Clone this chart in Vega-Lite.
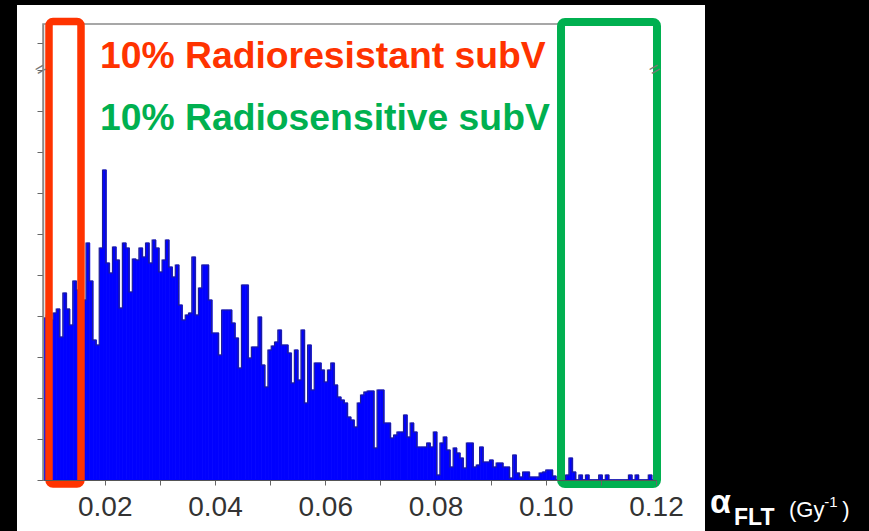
{
  "$schema": "https://vega.github.io/schema/vega-lite/v6.json",
  "width": 613,
  "height": 456,
  "autosize": "none",
  "padding": {"left": 43, "top": 24, "right": 213, "bottom": 51},
  "background": "black",
  "config": {"view": {"stroke": null}},
  "datasets": {
    "hist": [
      {"a":0.0088,"n":162},{"a":0.0094,"n":165},{"a":0.0100,"n":160},{"a":0.0106,"n":167},{"a":0.0112,"n":171},
      {"a":0.0118,"n":143},{"a":0.0124,"n":187},{"a":0.0130,"n":171},{"a":0.0136,"n":155},{"a":0.0142,"n":199},
      {"a":0.0148,"n":190},{"a":0.0154,"n":200},{"a":0.0160,"n":180},{"a":0.0166,"n":237},{"a":0.0172,"n":199},
      {"a":0.0178,"n":140},{"a":0.0184,"n":135},{"a":0.0190,"n":232},{"a":0.0196,"n":310},{"a":0.0202,"n":217},
      {"a":0.0208,"n":207},{"a":0.0214,"n":233},{"a":0.0220,"n":220},{"a":0.0226,"n":172},{"a":0.0232,"n":237},
      {"a":0.0238,"n":232},{"a":0.0244,"n":188},{"a":0.0250,"n":221},{"a":0.0256,"n":220},{"a":0.0262,"n":232},
      {"a":0.0268,"n":223},{"a":0.0274,"n":237},{"a":0.0280,"n":217},{"a":0.0286,"n":240},{"a":0.0292,"n":232},
      {"a":0.0298,"n":208},{"a":0.0304,"n":220},{"a":0.0310,"n":240},{"a":0.0316,"n":213},{"a":0.0322,"n":203},
      {"a":0.0328,"n":215},{"a":0.0334,"n":175},{"a":0.0340,"n":160},{"a":0.0346,"n":165},{"a":0.0352,"n":167},
      {"a":0.0358,"n":223},{"a":0.0364,"n":165},{"a":0.0370,"n":192},{"a":0.0376,"n":215},{"a":0.0382,"n":215},
      {"a":0.0388,"n":180},{"a":0.0394,"n":147},{"a":0.0400,"n":147},{"a":0.0406,"n":125},{"a":0.0412,"n":170},
      {"a":0.0418,"n":170},{"a":0.0424,"n":170},{"a":0.0430,"n":157},{"a":0.0436,"n":142},{"a":0.0442,"n":112},
      {"a":0.0448,"n":195},{"a":0.0454,"n":195},{"a":0.0460,"n":122},{"a":0.0466,"n":133},{"a":0.0472,"n":133},
      {"a":0.0478,"n":163},{"a":0.0484,"n":115},{"a":0.0490,"n":93},{"a":0.0496,"n":130},{"a":0.0502,"n":134},
      {"a":0.0508,"n":138},{"a":0.0514,"n":150},{"a":0.0520,"n":135},{"a":0.0526,"n":135},{"a":0.0532,"n":127},
      {"a":0.0538,"n":97},{"a":0.0544,"n":130},{"a":0.0550,"n":100},{"a":0.0556,"n":150},{"a":0.0562,"n":77},
      {"a":0.0568,"n":135},{"a":0.0574,"n":90},{"a":0.0580,"n":117},{"a":0.0586,"n":117},{"a":0.0592,"n":110},
      {"a":0.0598,"n":98},{"a":0.0604,"n":110},{"a":0.0610,"n":117},{"a":0.0616,"n":95},{"a":0.0622,"n":83},
      {"a":0.0628,"n":80},{"a":0.0634,"n":77},{"a":0.0640,"n":63},{"a":0.0646,"n":60},{"a":0.0652,"n":53},
      {"a":0.0658,"n":77},{"a":0.0664,"n":85},{"a":0.0670,"n":88},{"a":0.0676,"n":89},{"a":0.0682,"n":89},
      {"a":0.0688,"n":32},{"a":0.0694,"n":90},{"a":0.0700,"n":90},{"a":0.0706,"n":57},{"a":0.0712,"n":57},
      {"a":0.0718,"n":42},{"a":0.0724,"n":45},{"a":0.0730,"n":48},{"a":0.0736,"n":48},{"a":0.0742,"n":65},
      {"a":0.0748,"n":43},{"a":0.0754,"n":57},{"a":0.0760,"n":48},{"a":0.0766,"n":33},{"a":0.0772,"n":33},
      {"a":0.0778,"n":33},{"a":0.0784,"n":37},{"a":0.0790,"n":33},{"a":0.0796,"n":48},{"a":0.0802,"n":5},
      {"a":0.0808,"n":37},{"a":0.0814,"n":43},{"a":0.0820,"n":30},{"a":0.0826,"n":13},{"a":0.0832,"n":32},
      {"a":0.0838,"n":27},{"a":0.0844,"n":22},{"a":0.0850,"n":12},{"a":0.0856,"n":37},{"a":0.0862,"n":37},
      {"a":0.0868,"n":13},{"a":0.0874,"n":15},{"a":0.0880,"n":33},{"a":0.0886,"n":18},{"a":0.0892,"n":18},
      {"a":0.0898,"n":20},{"a":0.0904,"n":13},{"a":0.0910,"n":17},{"a":0.0916,"n":17},{"a":0.0922,"n":13},
      {"a":0.0928,"n":13},{"a":0.0934,"n":2},{"a":0.0940,"n":25},{"a":0.0946,"n":7},{"a":0.0952,"n":3},
      {"a":0.0958,"n":8},{"a":0.0964,"n":8},{"a":0.0970,"n":3},{"a":0.0976,"n":3},{"a":0.0982,"n":3},
      {"a":0.0988,"n":7},{"a":0.0994,"n":8},{"a":0.1000,"n":10},{"a":0.1006,"n":10},{"a":0.1012,"n":4},
      {"a":0.1018,"n":0},{"a":0.1024,"n":0},{"a":0.1030,"n":0},{"a":0.1036,"n":5},{"a":0.1042,"n":22},
      {"a":0.1048,"n":8},{"a":0.1054,"n":0},{"a":0.1060,"n":5},{"a":0.1066,"n":0},{"a":0.1072,"n":5},
      {"a":0.1078,"n":0},{"a":0.1084,"n":0},{"a":0.1090,"n":0},{"a":0.1096,"n":5},{"a":0.1102,"n":0},
      {"a":0.1108,"n":5},{"a":0.1114,"n":0},{"a":0.1120,"n":0},{"a":0.1126,"n":0},{"a":0.1132,"n":0},
      {"a":0.1138,"n":0},{"a":0.1144,"n":0},{"a":0.1150,"n":5},{"a":0.1156,"n":0},{"a":0.1162,"n":5},
      {"a":0.1168,"n":0},{"a":0.1174,"n":0},{"a":0.1180,"n":0},{"a":0.1186,"n":5},{"a":0.1192,"n":0}
    ]
  },
  "layer": [
    {
      "data": {"values": [{}]},
      "mark": {"type": "rect", "fill": "white", "clip": false},
      "encoding": {
        "x": {"datum": 0.004083, "type": "quantitative"},
        "x2": {"datum": 0.128889},
        "y": {"datum": 475, "type": "quantitative"},
        "y2": {"datum": -51}
      }
    },
    {
      "data": {"values": [{}]},
      "mark": {"type": "rect", "fill": "transparent", "stroke": "#8a8a8a", "strokeWidth": 1.5},
      "encoding": {
        "x": {"datum": 0.0088, "type": "quantitative"},
        "x2": {"datum": 0.12},
        "y": {"datum": 0, "type": "quantitative"},
        "y2": {"datum": 456}
      }
    },
    {
      "data": {"name": "hist"},
      "mark": {"type": "bar", "color": "#0000ff", "stroke": "#0000ff", "strokeWidth": 0.8, "binSpacing": 0},
      "encoding": {
        "x": {
          "field": "a", "type": "quantitative", "bin": {"binned": true, "step": 0.0006},
          "scale": {"domain": [0.0088, 0.12], "nice": false, "zero": false},
          "axis": {
            "title": null, "zindex": 1,
            "values": [0.02, 0.03, 0.04, 0.05, 0.06, 0.07, 0.08, 0.09, 0.10, 0.11, 0.12],
            "labelExpr": "round(datum.value*100) % 2 == 0 ? format(datum.value, '.2f') : ''",
            "labelFont": "Liberation Sans", "labelFontSize": 28, "labelColor": "#333333",
            "labelPadding": 8, "tickSize": 5, "tickColor": "#666666", "domainColor": "#555555",
            "labelOverlap": false, "labelFlush": false, "grid": false
          }
        },
        "y": {
          "field": "n", "type": "quantitative",
          "scale": {"domain": [0, 456], "nice": false, "zero": true},
          "axis": {
            "title": null, "zindex": 1, "labels": false, "grid": false,
            "values": [0, 41, 82, 123, 164, 205, 246, 287, 328, 369, 410, 437],
            "tickSize": 6, "tickColor": "#666666", "domainColor": "#8a8a8a", "domainWidth": 1.5
          }
        }
      }
    },
    {
      "data": {"name": "hist"},
      "mark": {"type": "line", "interpolate": "step-after", "stroke": "#1e1e96", "strokeWidth": 1.2},
      "encoding": {
        "x": {"field": "a", "type": "quantitative"},
        "y": {"field": "n", "type": "quantitative"}
      }
    },
    {
      "data": {"values": [{"t": "10% Radioresistant subV"}]},
      "mark": {"type": "text", "align": "left", "baseline": "alphabetic", "font": "Liberation Sans", "fontWeight": "bold", "fontSize": 37.3, "color": "#ff3300", "clip": false},
      "encoding": {
        "x": {"datum": 0.01914, "type": "quantitative"},
        "y": {"datum": 412, "type": "quantitative"},
        "text": {"field": "t"}
      }
    },
    {
      "data": {"values": [{"t": "10% Radiosensitive subV"}]},
      "mark": {"type": "text", "align": "left", "baseline": "alphabetic", "font": "Liberation Sans", "fontWeight": "bold", "fontSize": 37.3, "color": "#00b050", "clip": false},
      "encoding": {
        "x": {"datum": 0.01914, "type": "quantitative"},
        "y": {"datum": 350, "type": "quantitative"},
        "text": {"field": "t"}
      }
    },
    {
      "data": {"values": [{}]},
      "mark": {"type": "rect", "fill": "transparent", "stroke": "#ff3300", "strokeWidth": 7.5, "cornerRadius": 4, "clip": false},
      "encoding": {
        "x": {"datum": 0.009888, "type": "quantitative"},
        "x2": {"datum": 0.015693},
        "y": {"datum": 458.5, "type": "quantitative"},
        "y2": {"datum": -4}
      }
    },
    {
      "data": {"values": [{}]},
      "mark": {"type": "rect", "fill": "transparent", "stroke": "#00b050", "strokeWidth": 8, "cornerRadius": 4, "clip": false},
      "encoding": {
        "x": {"datum": 0.10277, "type": "quantitative"},
        "x2": {"datum": 0.12018},
        "y": {"datum": 458, "type": "quantitative"},
        "y2": {"datum": -4}
      }
    },
    {
      "data": {"values": [{"t": "=", "xv": 0.00844}, {"t": "=", "xv": 0.11982}]},
      "mark": {"type": "text", "angle": -30, "fontSize": 18, "font": "Liberation Sans", "color": "#777777", "clip": false},
      "encoding": {
        "x": {"field": "xv", "type": "quantitative"},
        "y": {"datum": 410, "type": "quantitative"},
        "text": {"field": "t"}
      }
    },
    {
      "data": {"values": [{"t": "α"}]},
      "mark": {"type": "text", "align": "left", "baseline": "alphabetic", "font": "Liberation Sans", "fontWeight": "bold", "fontSize": 34, "color": "white", "clip": false},
      "encoding": {
        "x": {"datum": 0.1298, "type": "quantitative"},
        "y": {"datum": -33, "type": "quantitative"},
        "text": {"field": "t"}
      }
    },
    {
      "data": {"values": [{"t": "FLT"}]},
      "mark": {"type": "text", "align": "left", "baseline": "alphabetic", "font": "Liberation Sans", "fontWeight": "bold", "fontSize": 23, "color": "white", "clip": false},
      "encoding": {
        "x": {"datum": 0.13415, "type": "quantitative"},
        "y": {"datum": -45, "type": "quantitative"},
        "text": {"field": "t"}
      }
    },
    {
      "data": {"values": [{"t": "(Gy"}]},
      "mark": {"type": "text", "align": "left", "baseline": "alphabetic", "font": "Liberation Sans", "fontSize": 22, "color": "white", "clip": false},
      "encoding": {
        "x": {"datum": 0.14413, "type": "quantitative"},
        "y": {"datum": -37, "type": "quantitative"},
        "text": {"field": "t"}
      }
    },
    {
      "data": {"values": [{"t": "-1"}]},
      "mark": {"type": "text", "align": "left", "baseline": "alphabetic", "font": "Liberation Sans", "fontSize": 15, "color": "white", "clip": false},
      "encoding": {
        "x": {"datum": 0.1505, "type": "quantitative"},
        "y": {"datum": -27, "type": "quantitative"},
        "text": {"field": "t"}
      }
    },
    {
      "data": {"values": [{"t": ")"}]},
      "mark": {"type": "text", "align": "left", "baseline": "alphabetic", "font": "Liberation Sans", "fontSize": 22, "color": "white", "clip": false},
      "encoding": {
        "x": {"datum": 0.1538, "type": "quantitative"},
        "y": {"datum": -37, "type": "quantitative"},
        "text": {"field": "t"}
      }
    }
  ]
}
